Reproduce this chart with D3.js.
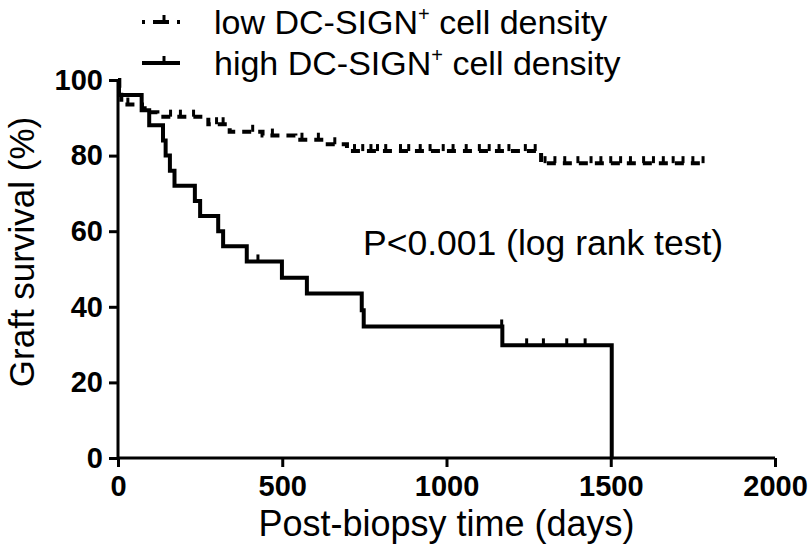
<!DOCTYPE html>
<html>
<head>
<meta charset="utf-8">
<script src="https://cdn.jsdelivr.net/npm/d3@7"></script>
<style>
  html, body { margin: 0; padding: 0; background: #fff; }
  svg { display: block; font-family: "Liberation Sans", Arial, Helvetica, sans-serif; }
</style>
</head>
<body>
<svg id="chart" width="810" height="549"></svg>
<script>
// ---- data ----
const seriesNames = ["low DC-SIGN", "high DC-SIGN"];
const xTicks = [0, 500, 1000, 1500, 2000];
const yTicks = [0, 20, 40, 60, 80, 100];

// low DC-SIGN+ cell density: step times (days) and survival (%)
const lowTimes = [0, 4, 10, 73, 100, 120, 275, 340, 440, 540, 630, 697, 1288, 1781];
const lowSurv  = [100, 97, 93.5, 92.5, 91.5, 90.3, 88.3, 86.3, 85.3, 84.2, 83, 81.2, 78, 78];
const lowCensor = [30, 160, 190, 230, 300, 320, 410, 470, 560, 610, 660, 720, 745, 770, 790, 815, 860, 885, 920, 950, 990, 1020, 1060, 1100, 1130, 1160, 1190, 1240, 1270, 1300, 1330, 1360, 1400, 1440, 1470, 1500, 1530, 1560, 1600, 1630, 1660, 1690, 1720, 1750, 1781];

// high DC-SIGN+ cell density
const highTimes = [0, 3, 72, 95, 137, 145, 158, 172, 234, 250, 305, 320, 392, 499, 575, 742, 748, 1170, 1503];
const highSurv  = [100, 96, 92, 88, 84, 80, 76, 72, 68, 64, 60, 56, 52, 47.7, 43.5, 39.1, 34.8, 29.8, 0];
const highCensor = [426, 1168, 1244, 1295, 1366, 1422];

// ---- layout ----
const svg = d3.select("#chart");
const x = d3.scaleLinear().domain([0, 2000]).range([118, 775]);
const y = d3.scaleLinear().domain([0, 100]).range([458, 80]);

function survAt(times, surv, t) {
  let s = surv[0];
  for (let i = 0; i < times.length; i++) { if (times[i] <= t) s = surv[i]; }
  return s;
}

// axes
const xAxis = d3.axisBottom(x).tickValues(xTicks).tickSize(9).tickPadding(6).tickFormat(d3.format("d"));
const yAxis = d3.axisLeft(y).tickValues(yTicks).tickSize(9).tickPadding(6).tickFormat(d3.format("d"));

const gx = svg.append("g").attr("transform", `translate(0,${y(0)})`).call(xAxis);
const gy = svg.append("g").attr("transform", `translate(${x(0)},0)`).call(yAxis);
[gx, gy].forEach(g => {
  g.select(".domain").attr("stroke", "#000").attr("stroke-width", 3);
  g.selectAll(".tick line").attr("stroke", "#000").attr("stroke-width", 3);
  g.selectAll(".tick text").attr("fill", "#000").style("font-size", "29px").style("font-weight", "bold")
    .style("font-family", "'Liberation Sans', Arial, sans-serif");
});
gx.select(".domain").attr("d", `M${x(0)},0H${x(2000)}`);
gy.select(".domain").attr("d", `M0,${y(0)}V${y(100)}`);
gx.selectAll(".tick text").attr("dy", "0.8em");

// curves
const line = d3.line().x(d => x(d[0])).y(d => y(d[1])).curve(d3.curveStepAfter);
const lowData = lowTimes.map((t, i) => [t, lowSurv[i]]);
const highData = highTimes.map((t, i) => [t, highSurv[i]]);

svg.append("path").datum(lowData).attr("d", line)
  .attr("fill", "none").attr("stroke", "#000").attr("stroke-width", 4)
  .attr("stroke-dasharray", "9,7");
svg.append("path").datum(highData).attr("d", line)
  .attr("fill", "none").attr("stroke", "#000").attr("stroke-width", 4);

// censor ticks
svg.append("g").selectAll("line").data(lowCensor).join("line")
  .attr("x1", d => x(d)).attr("x2", d => x(d))
  .attr("y1", d => y(survAt(lowTimes, lowSurv, d)))
  .attr("y2", d => y(survAt(lowTimes, lowSurv, d)) - 7)
  .attr("stroke", "#000").attr("stroke-width", 3);
svg.append("g").selectAll("line").data(highCensor).join("line")
  .attr("x1", d => x(d)).attr("x2", d => x(d))
  .attr("y1", d => y(survAt(highTimes, highSurv, d)))
  .attr("y2", d => y(survAt(highTimes, highSurv, d)) - 7)
  .attr("stroke", "#000").attr("stroke-width", 3);

// axis titles
svg.append("text").attr("x", (x(0) + x(2000)) / 2).attr("y", 536)
  .attr("text-anchor", "middle").style("font-size", "36px").text("Post-biopsy time (days)");
svg.append("text").attr("transform", `translate(34,${(y(0) + y(100)) / 2 - 17}) rotate(-90)`)
  .attr("text-anchor", "middle").style("font-size", "35px").text("Graft survival (%)");

// p-value annotation
svg.append("text").attr("x", 363).attr("y", 255).style("font-size", "35.5px").text("P<0.001 (log rank test)");

// legend
const legendRows = [
  { name: seriesNames[0], y: 22, dashed: true },
  { name: seriesNames[1], y: 63, dashed: false }
];
legendRows.forEach(r => {
  const g = svg.append("g");
  g.append("line").attr("x1", 142).attr("x2", 180).attr("y1", r.y).attr("y2", r.y)
    .attr("stroke", "#000").attr("stroke-width", 4)
    .attr("stroke-dasharray", r.dashed ? "3,8,16,8" : null);
  g.append("line").attr("x1", 164).attr("x2", 164).attr("y1", r.y).attr("y2", r.y - 7)
    .attr("stroke", "#000").attr("stroke-width", 3);
  const t = g.append("text").attr("x", 214).attr("y", r.y + 12).style("font-size", "34px");
  t.append("tspan").text(r.name);
  t.append("tspan").attr("dy", -13).style("font-size", "20px").text("+");
  t.append("tspan").attr("dy", 13).text(" cell density");
});
</script>
</body>
</html>
